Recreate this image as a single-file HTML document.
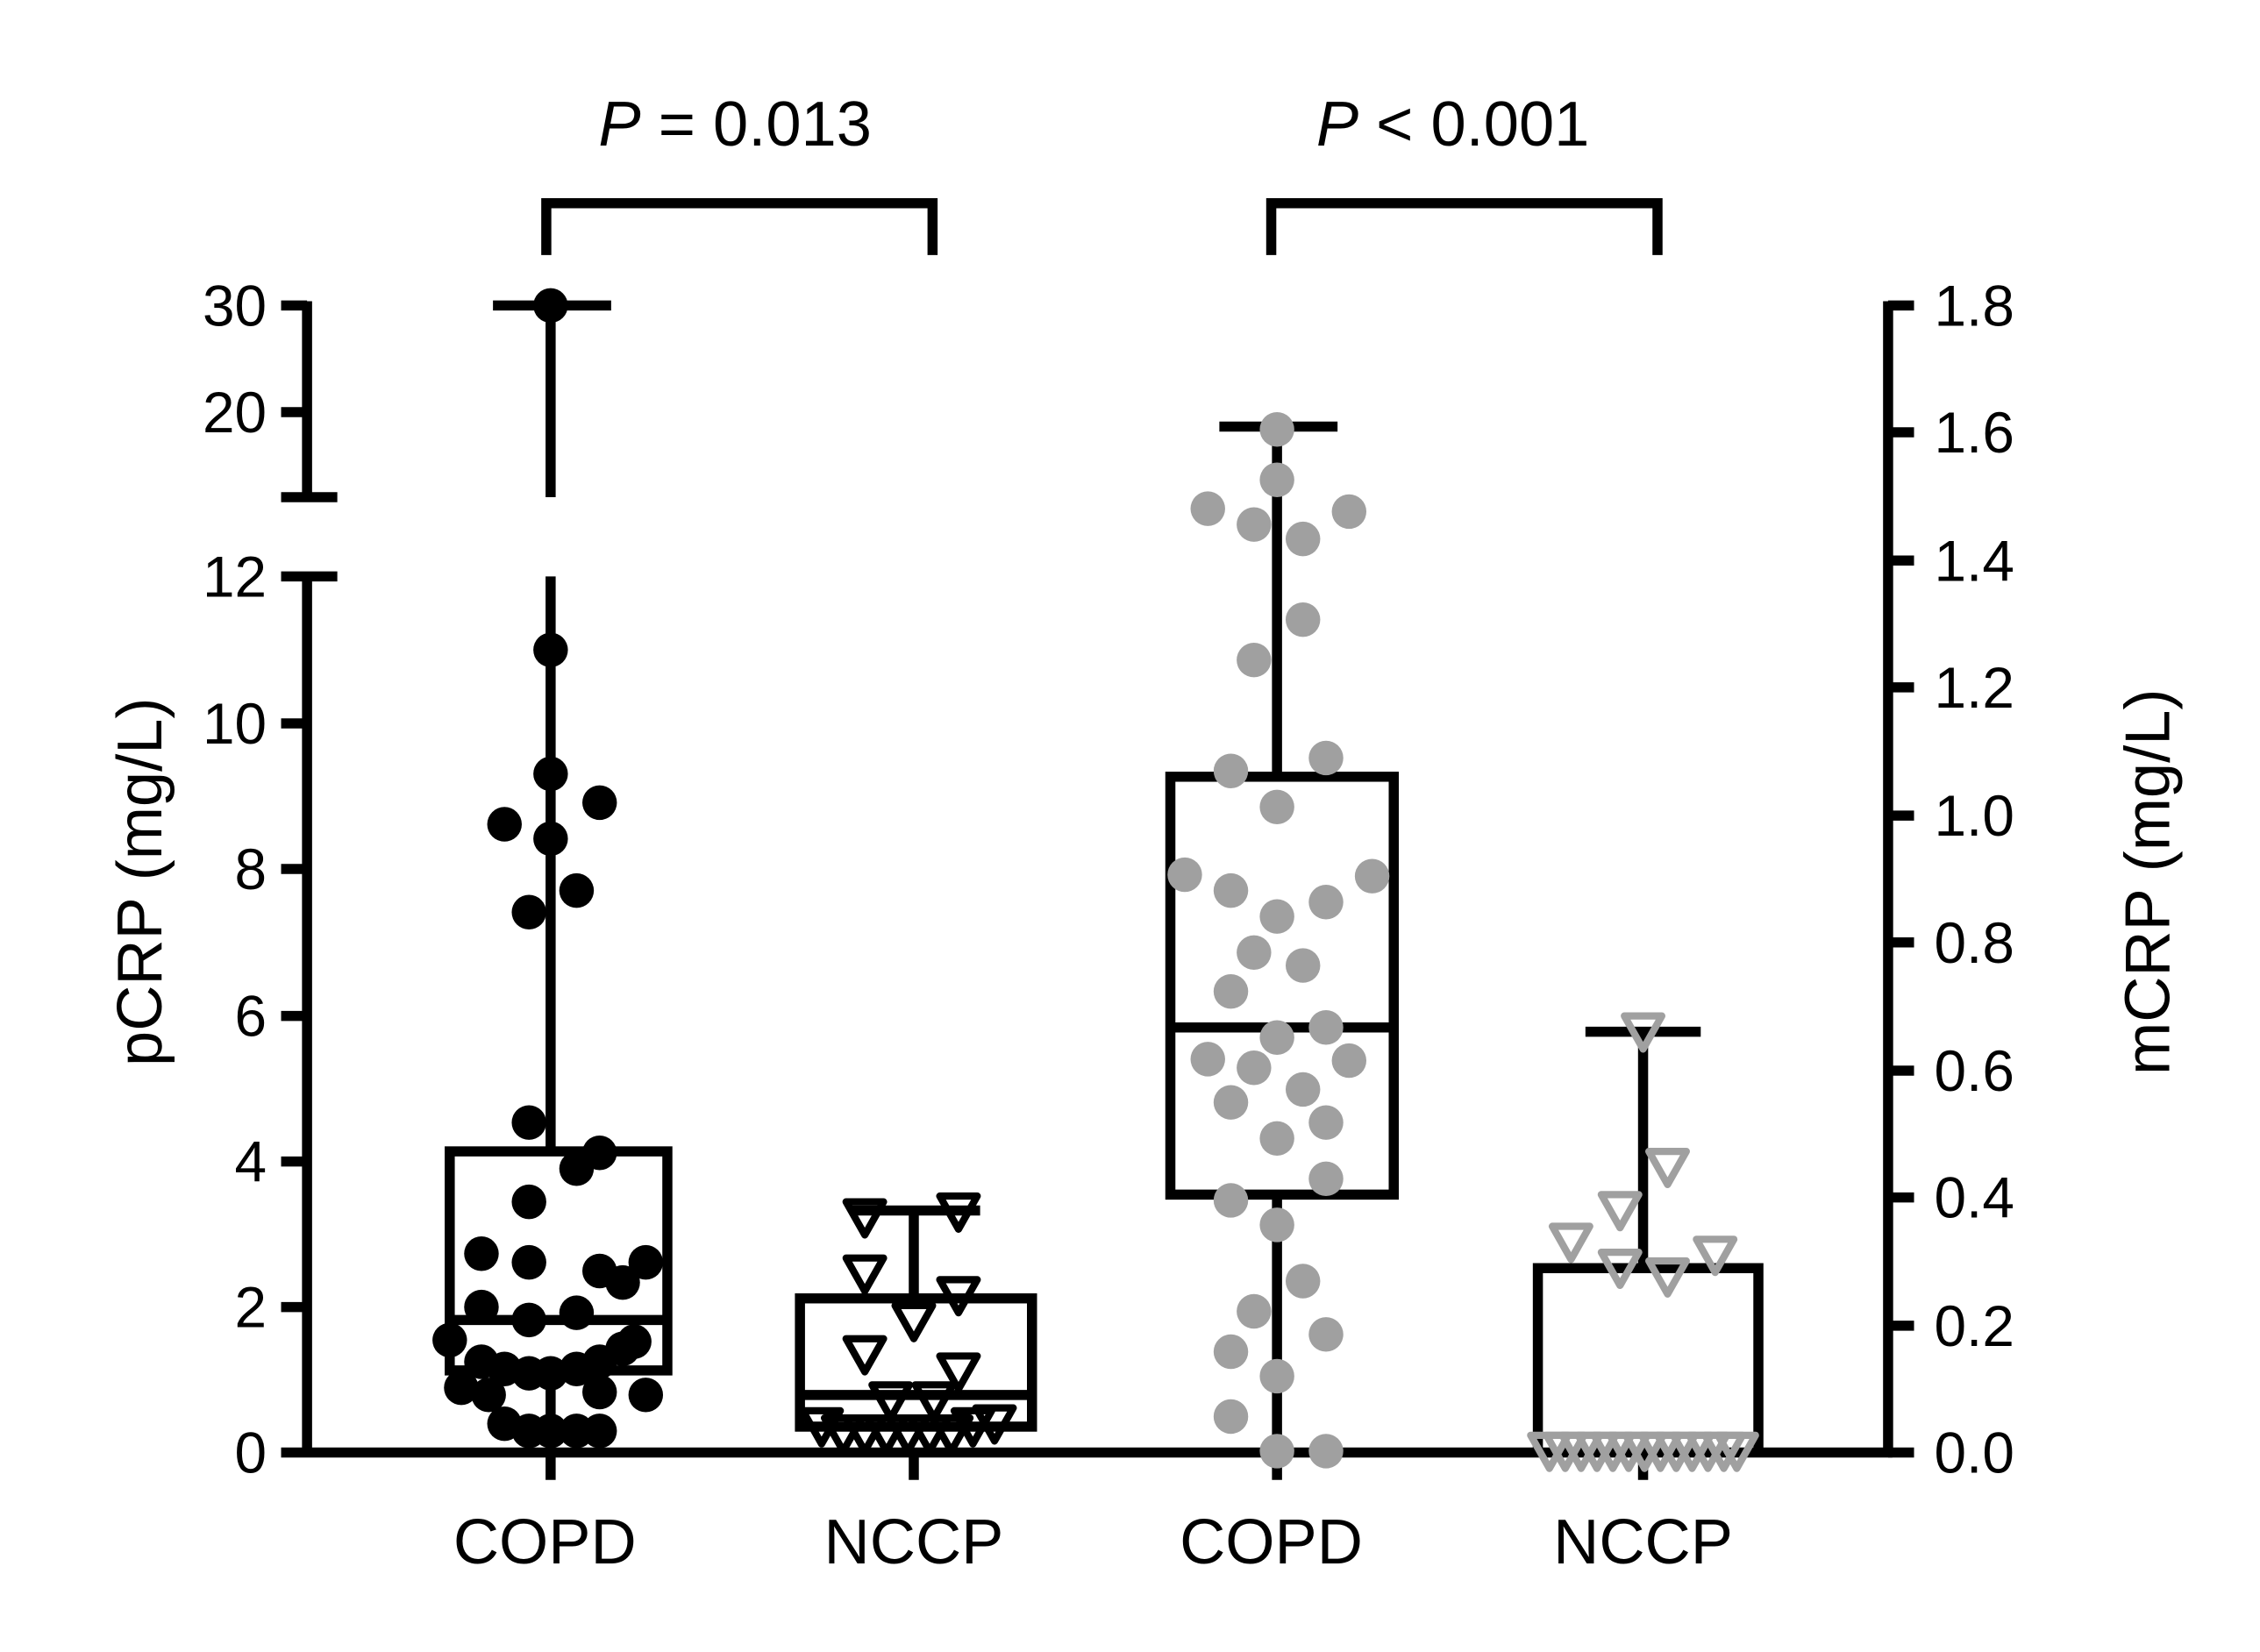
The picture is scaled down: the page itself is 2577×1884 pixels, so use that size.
<!DOCTYPE html>
<html><head><meta charset="utf-8"><style>
html,body{margin:0;padding:0;background:#fff;}
svg{display:block;}
text{font-family:"Liberation Sans",sans-serif;fill:#000;}
</style></head><body>
<svg width="2577" height="1884" viewBox="0 0 1568 1146.4" xmlns="http://www.w3.org/2000/svg">
<defs>
<path id="tb" d="M-13,-11 L13,-11 L0,12 Z" fill="none" stroke="#000" stroke-width="5" stroke-linejoin="round"/>
<path id="tg" d="M-13,-11 L13,-11 L0,12 Z" fill="none" stroke="#a0a0a0" stroke-width="5" stroke-linejoin="round"/>
</defs>
<g stroke="#000" stroke-width="7" fill="none">
<line x1="213" y1="400" x2="213" y2="1011"/>
<line x1="213" y1="209" x2="213" y2="348"/>
<line x1="195" y1="212" x2="213" y2="212"/>
<line x1="195" y1="286" x2="213" y2="286"/>
<line x1="195" y1="345" x2="234" y2="345"/>
<line x1="195" y1="400" x2="234" y2="400"/>
<line x1="195" y1="502" x2="213" y2="502"/>
<line x1="195" y1="603" x2="213" y2="603"/>
<line x1="195" y1="705" x2="213" y2="705"/>
<line x1="195" y1="806" x2="213" y2="806"/>
<line x1="195" y1="907" x2="213" y2="907"/>
<line x1="195" y1="1008" x2="1313" y2="1008"/>
<line x1="1310" y1="209" x2="1310" y2="1011"/>
<line x1="1310" y1="212" x2="1328" y2="212"/>
<line x1="1310" y1="300" x2="1328" y2="300"/>
<line x1="1310" y1="389" x2="1328" y2="389"/>
<line x1="1310" y1="477" x2="1328" y2="477"/>
<line x1="1310" y1="566" x2="1328" y2="566"/>
<line x1="1310" y1="654" x2="1328" y2="654"/>
<line x1="1310" y1="743" x2="1328" y2="743"/>
<line x1="1310" y1="831" x2="1328" y2="831"/>
<line x1="1310" y1="920" x2="1328" y2="920"/>
<line x1="1310" y1="1008" x2="1328" y2="1008"/>
<line x1="382" y1="1008" x2="382" y2="1027"/>
<line x1="634" y1="1008" x2="634" y2="1027"/>
<line x1="886" y1="1008" x2="886" y2="1027"/>
<line x1="1140" y1="1008" x2="1140" y2="1027"/>
<polyline points="379,177 379,141 647,141 647,177"/>
<polyline points="882,177 882,141 1150,141 1150,177"/>
<line x1="382" y1="212" x2="382" y2="345"/>
<line x1="342" y1="212" x2="424" y2="212"/>
<line x1="382" y1="400" x2="382" y2="799"/>
<line x1="382" y1="951" x2="382" y2="1008"/>
<rect x="312" y="799" width="151" height="152"/>
<line x1="312" y1="916" x2="463" y2="916"/>
<line x1="634" y1="840" x2="634" y2="901"/>
<line x1="590" y1="840" x2="680" y2="840"/>
<rect x="555" y="901" width="161" height="89"/>
<line x1="555" y1="968" x2="716" y2="968"/>
<line x1="886" y1="296" x2="886" y2="539"/>
<line x1="846" y1="296" x2="928" y2="296"/>
<line x1="886" y1="829" x2="886" y2="1005"/>
<rect x="812" y="539" width="155" height="290"/>
<line x1="812" y1="713" x2="967" y2="713"/>
<line x1="1140" y1="716" x2="1140" y2="880"/>
<line x1="1100" y1="716" x2="1180" y2="716"/>
<polyline points="1067,1008 1067,880 1220,880 1220,1008"/>
</g>
<g fill="#000">
<circle cx="382" cy="212" r="12"/><circle cx="382" cy="451" r="12"/><circle cx="382" cy="537" r="12"/>
<circle cx="416" cy="557" r="12"/><circle cx="350" cy="572" r="12"/><circle cx="382" cy="582" r="12"/>
<circle cx="367" cy="633" r="12"/><circle cx="400" cy="618" r="12"/><circle cx="367" cy="779" r="12"/>
<circle cx="416" cy="800" r="12"/><circle cx="400" cy="811" r="12"/><circle cx="367" cy="834" r="12"/>
<circle cx="334" cy="870" r="12"/><circle cx="367" cy="876" r="12"/><circle cx="416" cy="882" r="12"/>
<circle cx="448" cy="876" r="12"/><circle cx="432" cy="890" r="12"/><circle cx="334" cy="907" r="12"/>
<circle cx="367" cy="916" r="12"/><circle cx="400" cy="911" r="12"/><circle cx="312" cy="930" r="12"/>
<circle cx="440" cy="931" r="12"/><circle cx="334" cy="945" r="12"/><circle cx="350" cy="950" r="12"/>
<circle cx="367" cy="953" r="12"/><circle cx="382" cy="953" r="12"/><circle cx="400" cy="950" r="12"/>
<circle cx="416" cy="945" r="12"/><circle cx="432" cy="936" r="12"/><circle cx="320" cy="963" r="12"/>
<circle cx="339" cy="968" r="12"/><circle cx="416" cy="966" r="12"/><circle cx="448" cy="968" r="12"/>
<circle cx="350" cy="988" r="12"/><circle cx="367" cy="993" r="12"/><circle cx="382" cy="993" r="12"/>
<circle cx="400" cy="993" r="12"/><circle cx="416" cy="993" r="12"/>
</g>
<g>
<use href="#tb" x="600" y="845"/><use href="#tb" x="665" y="841"/><use href="#tb" x="600" y="884"/>
<use href="#tb" x="634" y="917"/><use href="#tb" x="665" y="899"/><use href="#tb" x="600" y="940"/>
<use href="#tb" x="665" y="952"/><use href="#tb" x="618" y="972"/><use href="#tb" x="648" y="972"/>
<use href="#tb" x="570" y="990"/><use href="#tb" x="585" y="995"/><use href="#tb" x="600" y="995"/>
<use href="#tb" x="615" y="995"/><use href="#tb" x="630" y="995"/><use href="#tb" x="645" y="995"/>
<use href="#tb" x="660" y="995"/><use href="#tb" x="675" y="990"/><use href="#tb" x="690" y="988"/>
</g>
<g fill="#a0a0a0">
<circle cx="886" cy="298" r="12"/><circle cx="886" cy="333" r="12"/><circle cx="838" cy="353" r="12"/>
<circle cx="870" cy="364" r="12"/><circle cx="936" cy="355" r="12"/><circle cx="904" cy="374" r="12"/>
<circle cx="904" cy="430" r="12"/><circle cx="870" cy="458" r="12"/><circle cx="920" cy="526" r="12"/>
<circle cx="854" cy="535" r="12"/><circle cx="886" cy="560" r="12"/><circle cx="822" cy="607" r="12"/>
<circle cx="952" cy="608" r="12"/><circle cx="854" cy="618" r="12"/><circle cx="920" cy="626" r="12"/>
<circle cx="886" cy="636" r="12"/><circle cx="870" cy="661" r="12"/><circle cx="904" cy="670" r="12"/>
<circle cx="854" cy="688" r="12"/><circle cx="886" cy="720" r="12"/><circle cx="920" cy="713" r="12"/>
<circle cx="838" cy="735" r="12"/><circle cx="870" cy="741" r="12"/><circle cx="936" cy="736" r="12"/>
<circle cx="904" cy="756" r="12"/><circle cx="854" cy="765" r="12"/><circle cx="920" cy="779" r="12"/>
<circle cx="886" cy="790" r="12"/><circle cx="920" cy="818" r="12"/><circle cx="854" cy="833" r="12"/>
<circle cx="886" cy="850" r="12"/><circle cx="904" cy="889" r="12"/><circle cx="870" cy="910" r="12"/>
<circle cx="920" cy="926" r="12"/><circle cx="854" cy="938" r="12"/><circle cx="886" cy="955" r="12"/>
<circle cx="854" cy="983" r="12"/><circle cx="886" cy="1007" r="12"/><circle cx="920" cy="1007" r="12"/>
</g>
<g>
<use href="#tg" x="1140" y="716"/><use href="#tg" x="1157" y="810"/><use href="#tg" x="1124" y="840"/>
<use href="#tg" x="1090" y="862"/><use href="#tg" x="1124" y="880"/><use href="#tg" x="1157" y="886"/>
<use href="#tg" x="1190" y="871"/>
<use href="#tg" x="1075" y="1007"/><use href="#tg" x="1086" y="1007"/><use href="#tg" x="1097" y="1007"/>
<use href="#tg" x="1108" y="1007"/><use href="#tg" x="1119" y="1007"/><use href="#tg" x="1130" y="1007"/>
<use href="#tg" x="1141" y="1007"/><use href="#tg" x="1152" y="1007"/><use href="#tg" x="1163" y="1007"/>
<use href="#tg" x="1174" y="1007"/><use href="#tg" x="1185" y="1007"/><use href="#tg" x="1196" y="1007"/>
<use href="#tg" x="1205" y="1007"/>
</g>
<g font-size="40" text-anchor="end">
<text x="185" y="226">30</text><text x="185" y="300">20</text>
<text x="185" y="414">12</text><text x="185" y="516">10</text>
<text x="185" y="617">8</text><text x="185" y="719">6</text>
<text x="185" y="820">4</text><text x="185" y="921">2</text><text x="185" y="1022">0</text>
</g>
<g font-size="40" text-anchor="start">
<text x="1342" y="226">1.8</text><text x="1342" y="314">1.6</text><text x="1342" y="403">1.4</text>
<text x="1342" y="491">1.2</text><text x="1342" y="580">1.0</text><text x="1342" y="668">0.8</text>
<text x="1342" y="757">0.6</text><text x="1342" y="845">0.4</text><text x="1342" y="934">0.2</text>
<text x="1342" y="1022">0.0</text>
</g>
<g font-size="44" text-anchor="middle">
<text x="378" y="1085">COPD</text><text x="634" y="1085">NCCP</text>
<text x="882" y="1085">COPD</text><text x="1140" y="1085">NCCP</text>
<text x="510" y="101"><tspan font-style="italic">P</tspan> = 0.013</text>
<text x="1008" y="101"><tspan font-style="italic">P</tspan> &lt; 0.001</text>
<text transform="translate(112,612) rotate(-90)">pCRP (mg/L)</text>
<text transform="translate(1505,612) rotate(-90)">mCRP (mg/L)</text>
</g>
</svg>
</body></html>
